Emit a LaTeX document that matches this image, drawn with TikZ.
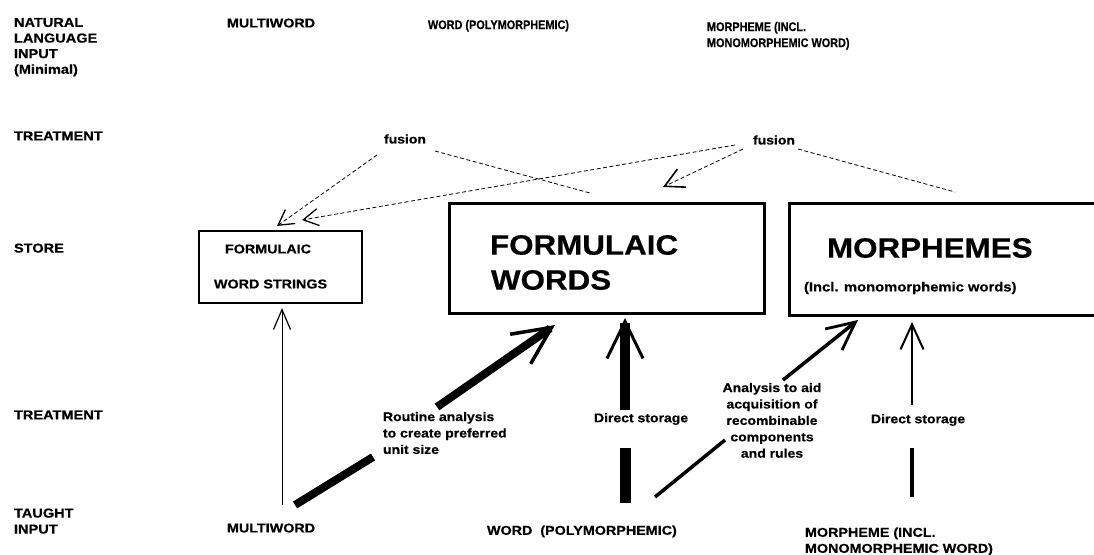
\documentclass[tikz,border=0pt]{standalone}
\usepackage{fontspec}
\newfontfamily\lbl{Liberation Sans}[FakeStretch=1.12, BoldFeatures={FakeBold=0.5}]
\newfontfamily\lblnarrow{Liberation Sans}[FakeStretch=0.87, BoldFeatures={FakeBold=0.5}]
\usetikzlibrary{arrows.meta}
\begin{document}
\begin{tikzpicture}[x=1pt,y=-1pt,
  every node/.style={inner sep=0pt, outer sep=0pt, text=black},
  rowlab/.style={anchor=north west, align=left, font=\lbl\bfseries\fontsize{13}{15.6}\selectfont},
  inlab/.style={anchor=north west, align=left, font=\lbl\bfseries\fontsize{12.8}{16}\selectfont},
  toplab/.style={anchor=north west, align=left, font=\lblnarrow\bfseries\fontsize{12.5}{16}\selectfont},
  note/.style={font=\lbl\bfseries\fontsize{12.5}{16.4}\selectfont},
  boxsmall/.style={anchor=west, font=\lbl\bfseries\fontsize{12.8}{14}\selectfont},
  boxbig/.style={anchor=west, font=\lbl\bfseries\fontsize{28}{35}\selectfont},
  storebox/.style={draw, rectangle, anchor=north west},
  fuse/.style={draw, dash pattern=on 4pt off 2.5pt, line width=0.8pt},
  barb/.style n args={3}{-{Straight Barb[length=#1 0, width=#2 0, line width'=#3]}},
]
\useasboundingbox (0,0) rectangle (1094,554);
\clip (0,0) rectangle (1094,554);
\fill[white] (0,0) rectangle (1094,554);

% row headings
\node[rowlab] (rNat) at (14,18) {NATURAL\\LANGUAGE\\INPUT\\(Minimal)};
\node[rowlab] (rTr1) at (14,131.5) {TREATMENT};
\node[rowlab] (rSt) at (14,243.5) {STORE};
\node[rowlab] (rTr2) at (14,410.5) {TREATMENT};
\node[rowlab, font=\lbl\bfseries\fontsize{13}{16}\selectfont] (rTa) at (14,508.5) {TAUGHT\\INPUT};

% natural language input units
\node[inlab] (nMW) at (227,18.5) {MULTIWORD};
\node[toplab] (nW) at (428,20) {WORD (POLYMORPHEMIC)};
\node[toplab] (nM) at (707,22) {MORPHEME (INCL.\\MONOMORPHEMIC WORD)};

% taught input units
\node[inlab] (tMW) at (227,523.5) {MULTIWORD};
\node[inlab] (tW) at (487,525.5) {WORD\ \ (POLYMORPHEMIC)};
\node[inlab] (tM) at (805,527.5) {MORPHEME (INCL.\\MONOMORPHEMIC WORD)};

% fusion labels
\node[note, anchor=west] (fu1) at (384,139) {fusion};
\node[note, anchor=west] (fu2) at (753,140) {fusion};

% stores
\node[storebox, line width=1.2pt, minimum width=163pt, minimum height=72pt] (sFWS) at (199,231) {};
\node[boxsmall] (tFWS1) at (225,249) {FORMULAIC};
\node[boxsmall] (tFWS2) at (214,284) {WORD STRINGS};

\node[storebox, line width=3pt, minimum width=315pt, minimum height=110pt] (sFW) at (449,203) {};
\node[boxbig] (tFW1) at (490,245) {FORMULAIC};
\node[boxbig] (tFW2) at (491,280) {WORDS};

\node[storebox, line width=3pt, minimum width=330pt, minimum height=112pt] (sM) at (789,203) {};
\node[boxbig] (tM1) at (827,248) {MORPHEMES};
\node[boxsmall, font=\lbl\bfseries\fontsize{13.2}{14}\selectfont] (tM2) at (804,288) {(Incl. monomorphemic words)};

% treatment labels
\node[note, anchor=north west, align=left] (lRout) at (383,412) {Routine analysis\\to create preferred\\unit size};
\node[note, anchor=west] (lDS1) at (594,419) {Direct storage};
\node[note, anchor=north, align=center] (lAn) at (772,383) {Analysis to aid\\acquisition of\\recombinable\\components\\and rules};
\node[note, anchor=west] (lDS2) at (871,420) {Direct storage};

% fusion connectors
\coordinate (f1a) at (377,155);  \coordinate (f1aT) at (277,226);
\coordinate (f1b) at (435,151);  \coordinate (f1bE) at (590,193);
\coordinate (f2a) at (735,145);  \coordinate (f2aT) at (302,220);
\coordinate (f2b) at (743,149);  \coordinate (f2bT) at (663,187);
\coordinate (f2c) at (798,149);  \coordinate (f2cE) at (955,192);
\draw[fuse, barb={15pt}{17pt}{1.3pt}] (f1a) -- (f1aT);
\draw[fuse] (f1b) -- (f1bE);
\draw[fuse, barb={15pt}{17pt}{1.3pt}] (f2a) -- (f2aT);
\draw[fuse, barb={19pt}{20pt}{1.6pt}] (f2b) -- (f2bT);
\draw[fuse] (f2c) -- (f2cE);

% multiword straight to formulaic word strings
\coordinate (a0) at (282,505);  \coordinate (a1) at (282,308);
\draw[line width=1pt, barb={20pt}{17pt}{1.2pt}] (a0) -- (a1);

% routine analysis
\coordinate (r0) at (295,505);  \coordinate (r1) at (373,457);
\coordinate (r2) at (437,407);  \coordinate (r3) at (555,325);
\draw[line width=8pt] (r0) -- (r1);
\draw[line width=8pt, barb={38pt}{36pt}{3.5pt}] (r2) -- (r3);

% direct storage of words
\coordinate (d0) at (625,503);  \coordinate (d1) at (625,448);
\coordinate (d2) at (625,410);  \coordinate (d3) at (625,318);
\draw[line width=11pt] (d0) -- (d1);
\draw[line width=10.5pt, barb={37pt}{36pt}{3pt}] (d2) -- (d3);

% analysis for recombinable components
\coordinate (n0) at (655,497);  \coordinate (n1) at (725,440);
\coordinate (n2) at (783,380);  \coordinate (n3) at (858,320);
\draw[line width=3.5pt] (n0) -- (n1);
\draw[line width=3.5pt, barb={28pt}{27pt}{2.8pt}] (n2) -- (n3);

% direct storage of morphemes
\coordinate (m0) at (912,497);  \coordinate (m1) at (912,448);
\coordinate (m2) at (912,405);  \coordinate (m3) at (912,322);
\draw[line width=4pt] (m0) -- (m1);
\draw[line width=2pt, barb={25pt}{23pt}{2pt}] (m2) -- (m3);
\end{tikzpicture}
\end{document}
